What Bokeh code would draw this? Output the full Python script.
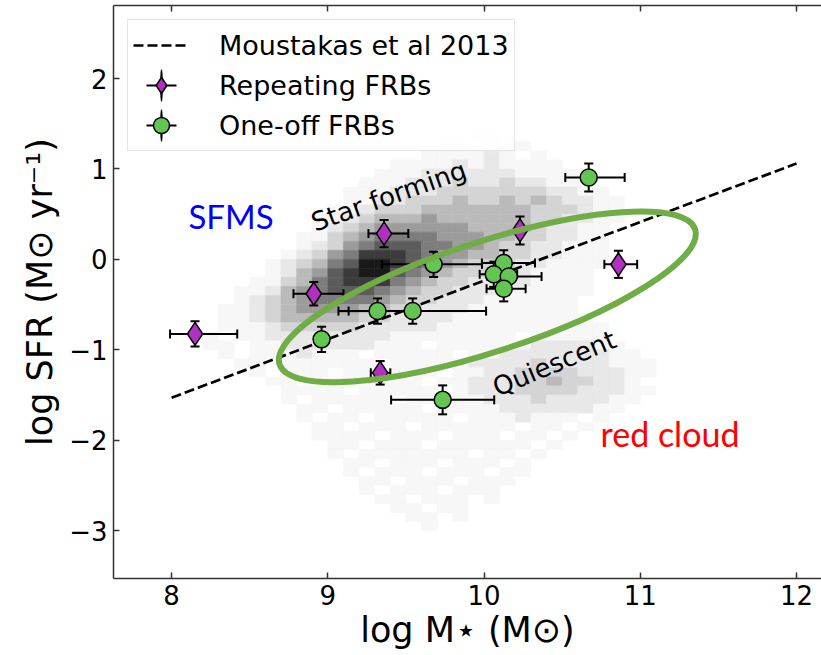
import math
from bokeh.plotting import figure
from bokeh.models import (ColumnDataSource, Whisker, TeeHead, FixedTicker,
                          LinearAxis, Legend, LegendItem, Range1d)
from bokeh.core.properties import value
from bokeh.embed import file_html
from bokeh.resources import INLINE

# ---------------- data ----------------
X_TICKS = [8, 9, 10, 11, 12]
X_TICK_LABELS = ["8", "9", "10", "11", "12"]
Y_TICKS = [-3, -2, -1, 0, 1, 2]
Y_TICK_LABELS = ["\u22123", "\u22122", "\u22121", "0", "1", "2"]

MOUSTAKAS_MASS = [8.0, 12.0]
MOUSTAKAS_SFR = [-1.53, 1.06]

REP_MASS = [8.15, 8.91, 9.36, 10.23, 9.335, 10.86]
REP_SFR = [-0.825, -0.38, 0.285, 0.32, -1.255, -0.055]
REP_MASS_LO = [0.16, 0.13, 0.10, 0.0, 0.06, 0.09]
REP_MASS_HI = [0.27, 0.19, 0.155, 0.0, 0.065, 0.12]
REP_SFR_ERR = [0.14, 0.13, 0.15, 0.155, 0.13, 0.15]

ONE_MASS = [10.67, 9.677, 10.126, 10.062, 10.158, 10.126, 9.318, 9.543, 8.96, 9.735]
ONE_SFR = [0.905, -0.055, -0.04, -0.165, -0.19, -0.325, -0.572, -0.572, -0.885, -1.554]
ONE_MASS_LO = [0.15, 0.33, 0.14, 0.09, 0.10, 0.11, 0.25, 0.41, 0.0, 0.33]
ONE_MASS_HI = [0.23, 0.31, 0.20, 0.15, 0.21, 0.14, 0.25, 0.47, 0.0, 0.33]
ONE_SFR_ERR = [0.155, 0.14, 0.14, 0.14, 0.14, 0.14, 0.14, 0.14, 0.14, 0.16]

# 2D histogram of the galaxy population (density level 0-9), bins of 0.1 dex
HIST_X0 = 8.0
HIST_DX = 0.1
HIST_YTOP = 1.4
HIST_DY = 0.1
HIST_ROWS = [
    "00000 00000 00000 00001 10000 00000 00000 0",
    "00000 00000 00000 00110 11100 00000 00000 0",
    "00000 00000 00000 01111 21010 00000 00000 0",
    "00000 00000 00001 11121 21111 00000 00000 0",
    "00000 00000 00011 12222 22111 10000 00000 0",
    "00000 00000 00111 22232 23221 11000 00000 0",
    "00000 00000 01112 22333 33332 21100 00000 0",
    "00000 00000 01122 33343 34343 22110 00000 0",
    "00000 00000 11233 34444 44433 32110 00000 0",
    "00000 00001 12344 45444 44433 22110 00000 0",
    "00000 00001 23455 55554 44432 21100 00000 0",
    "00000 00011 34566 66555 44332 21100 00000 0",
    "00000 00012 35677 76655 43322 11100 00000 0",
    "00000 00123 56888 76554 43322 11100 00000 0",
    "00000 01234 67998 76543 33221 11100 00000 0",
    "00000 01245 78997 65433 32211 11000 00000 0",
    "00000 11346 78886 54332 22211 11000 00000 0",
    "00001 12456 77765 43322 21111 11000 00000 0",
    "00001 23456 66654 33222 11111 10000 00000 0",
    "00011 23455 55443 32221 11111 10000 00000 0",
    "00011 23444 44332 22211 11111 11000 00000 0",
    "00011 12333 33222 22111 11111 11100 00000 0",
    "00101 12222 22221 11111 11011 11100 00000 0",
    "00110 11222 22211 10111 11122 22110 00000 0",
    "00010 11121 11011 11101 12222 22211 00000 0",
    "00001 10111 11101 11112 22232 22211 10000 0",
    "00000 10111 01111 11011 22333 32221 10000 0",
    "00000 01101 11011 10112 22334 33221 00000 0",
    "00000 00111 10111 11012 22333 32221 10000 0",
    "00000 00101 11110 11111 22232 22211 00000 0",
    "00000 00011 01111 10111 12222 22110 00000 0",
    "00000 00010 11011 11101 11211 10100 00000 0",
    "00000 00001 10111 01111 11011 01000 00000 0",
    "00000 00001 11101 11011 10110 10000 00000 0",
    "00000 00000 11011 10111 11101 00000 00000 0",
    "00000 00000 10111 11110 11010 00000 00000 0",
    "00000 00000 01101 11011 10100 00000 00000 0",
    "00000 00000 01011 10111 01100 00000 00000 0",
    "00000 00000 00110 11101 11000 00000 00000 0",
    "00000 00000 00101 11011 10000 00000 00000 0",
    "00000 00000 00011 01110 10000 00000 00000 0",
    "00000 00000 00001 10110 00000 00000 00000 0",
    "00000 00000 00000 11010 00000 00000 00000 0",
    "00000 00000 00000 01000 00000 00000 00000 0",
]

REGION_TEXT = ["Star forming", "Quiescent"]
REGION_X = [9.39, 10.45]
REGION_Y = [0.70, -1.15]
REGION_ANGLE_DEG = [19.5, 22.6]

ELLIPSE_X = 10.021
ELLIPSE_Y = -0.415

# ---------------- styles ----------------
PURPLE = "#B12FC1"
GREEN = "#63C652"
ELLIPSE_GREEN = "#70AD47"
AXIS_COLOR = "#333333"
FONT = "DejaVu Sans"
LEVEL_DARKNESS = [0.0, 0.03, 0.09, 0.17, 0.27, 0.39, 0.51, 0.64, 0.77, 0.90]

# histogram cells
hx, hy, hc = [], [], []
for r, row in enumerate(HIST_ROWS):
    cells = row.replace(" ", "")
    yc = HIST_YTOP - (r + 0.5) * HIST_DY
    for c, ch in enumerate(cells):
        lv = int(ch)
        if lv > 0:
            g = int(round(255 * (1 - LEVEL_DARKNESS[lv])))
            hx.append(HIST_X0 + (c + 0.5) * HIST_DX)
            hy.append(yc)
            hc.append("#%02x%02x%02x" % (g, g, g))

p = figure(width=821, height=655, output_backend="svg", toolbar_location=None,
           x_range=Range1d(7.628, 12.16), y_range=Range1d(-3.53, 2.808),
           min_border_left=113, min_border_right=0, min_border_top=5,
           min_border_bottom=77, background_fill_color="white",
           border_fill_color="white", outline_line_color=None)
p.xgrid.visible = False
p.ygrid.visible = False

# axes
for ax in (p.xaxis[0], p.yaxis[0]):
    ax.major_label_text_font = FONT
    ax.major_label_text_font_size = "26px"
    ax.major_label_text_color = "black"
    ax.axis_line_color = AXIS_COLOR
    ax.axis_line_width = 1.5
    ax.major_tick_line_color = AXIS_COLOR
    ax.major_tick_line_width = 1.5
    ax.major_tick_in = 6
    ax.major_tick_out = 0
    ax.minor_tick_line_color = None
    ax.axis_label_text_font = FONT
    ax.axis_label_text_font_style = "normal"
    ax.axis_label_text_font_size = "35px"
    ax.axis_label_text_color = "black"
    ax.major_label_standoff = 6
    ax.axis_label_standoff = 2

p.xaxis[0].ticker = FixedTicker(ticks=X_TICKS)
p.xaxis[0].major_label_overrides = dict(zip(X_TICKS, X_TICK_LABELS))
p.yaxis[0].ticker = FixedTicker(ticks=Y_TICKS)
p.yaxis[0].major_label_overrides = dict(zip(Y_TICKS, Y_TICK_LABELS))
p.xaxis[0].axis_label = "log M\u22c6 (M\u2299)"
p.yaxis[0].axis_label = "log SFR (M\u2299 yr\u207b\u00b9)"
p.yaxis[0].axis_label_standoff = 6

top_axis = LinearAxis(ticker=FixedTicker(ticks=X_TICKS), major_label_text_color=None,
                      major_label_text_font_size="10px",
                      major_label_standoff=0, major_tick_in=6, major_tick_out=0,
                      minor_tick_line_color=None, axis_line_color=AXIS_COLOR,
                      axis_line_width=1.5, major_tick_line_color=AXIS_COLOR,
                      major_tick_line_width=1.5)
p.add_layout(top_axis, "above")

# background 2D histogram
p.rect(x=hx, y=hy, width=HIST_DX, height=HIST_DY, fill_color=hc, line_color=hc,
       line_width=0.6, level="image")

# error bars
rep_src = ColumnDataSource(dict(
    x=REP_MASS, y=REP_SFR,
    xlo=[m - e for m, e in zip(REP_MASS, REP_MASS_LO)],
    xhi=[m + e for m, e in zip(REP_MASS, REP_MASS_HI)],
    ylo=[s - e for s, e in zip(REP_SFR, REP_SFR_ERR)],
    yhi=[s + e for s, e in zip(REP_SFR, REP_SFR_ERR)]))
one_src = ColumnDataSource(dict(
    x=ONE_MASS, y=ONE_SFR,
    xlo=[m - e for m, e in zip(ONE_MASS, ONE_MASS_LO)],
    xhi=[m + e for m, e in zip(ONE_MASS, ONE_MASS_HI)],
    ylo=[s - e for s, e in zip(ONE_SFR, ONE_SFR_ERR)],
    yhi=[s + e for s, e in zip(ONE_SFR, ONE_SFR_ERR)]))

def head():
    return TeeHead(size=9, line_width=2, line_color="black")

for src in (rep_src, one_src):
    p.add_layout(Whisker(source=src, base="y", lower="xlo", upper="xhi", dimension="width",
                         line_color="black", line_width=2, lower_head=head(),
                         upper_head=head(), level="underlay"))
    p.add_layout(Whisker(source=src, base="x", lower="ylo", upper="yhi", dimension="height",
                         line_color="black", line_width=2, lower_head=head(),
                         upper_head=head(), level="underlay"))

# Moustakas relation
line_r = p.line(MOUSTAKAS_MASS, MOUSTAKAS_SFR, line_color="black", line_width=2.7,
                line_dash="10 4")

# markers
rep_r = p.scatter("x", "y", source=rep_src, marker="diamond", size=23,
                  fill_color=PURPLE, line_color="black", line_width=1.5)
one_r = p.scatter("x", "y", source=one_src, marker="circle", size=17,
                  fill_color=GREEN, line_color="black", line_width=1.5)

# legend-only error-bar arms
nan = float("nan")
harm = p.line([nan], [nan], line_color="black", line_width=2, line_dash="30 100",
              line_dash_offset=117)
varm = p.ellipse(x=[nan], y=[nan], width=2, height=28, width_units="screen",
                 height_units="screen", fill_color="black", line_color="black",
                 line_width=0.5)

# annotation ellipse
p.ellipse(x=[ELLIPSE_X], y=[ELLIPSE_Y], width=437, height=110, angle=math.radians(18),
          width_units="screen", height_units="screen", fill_color=None,
          line_color=ELLIPSE_GREEN, line_width=6)

# region texts
p.text(x=REGION_X, y=REGION_Y, text=REGION_TEXT,
       angle=[math.radians(a) for a in REGION_ANGLE_DEG],
       text_font=value(FONT), text_font_size="26px", text_color="black",
       text_align="center", text_baseline="middle")
p.text(x=[8.38], y=[0.484], text=["SFMS"], text_font=value("Lato"),
       text_font_size="33px", text_color="#0000FF", text_align="center",
       text_baseline="middle")
p.text(x=[11.19], y=[-1.93], text=["red cloud"], text_font=value("Lato"),
       text_font_size="34px", text_color="#FF0000", text_align="center",
       text_baseline="middle")

legend = Legend(items=[
    LegendItem(label="Moustakas et al 2013", renderers=[line_r]),
    LegendItem(label="Repeating FRBs", renderers=[harm, varm, rep_r]),
    LegendItem(label="One-off FRBs", renderers=[harm, varm, one_r]),
], location="top_left")
legend.margin = 14
legend.padding = 5
legend.spacing = 0
legend.glyph_width = 56
legend.glyph_height = 40
legend.label_height = 40
legend.label_standoff = 30
legend.label_text_font = FONT
legend.label_text_font_size = "27px"
legend.label_text_color = "black"
legend.border_line_color = "#cccccc"
legend.border_line_width = 1.5
legend.background_fill_color = "white"
legend.background_fill_alpha = 0.85
p.add_layout(legend)

open("out.html", "w").write(file_html(p, INLINE))
